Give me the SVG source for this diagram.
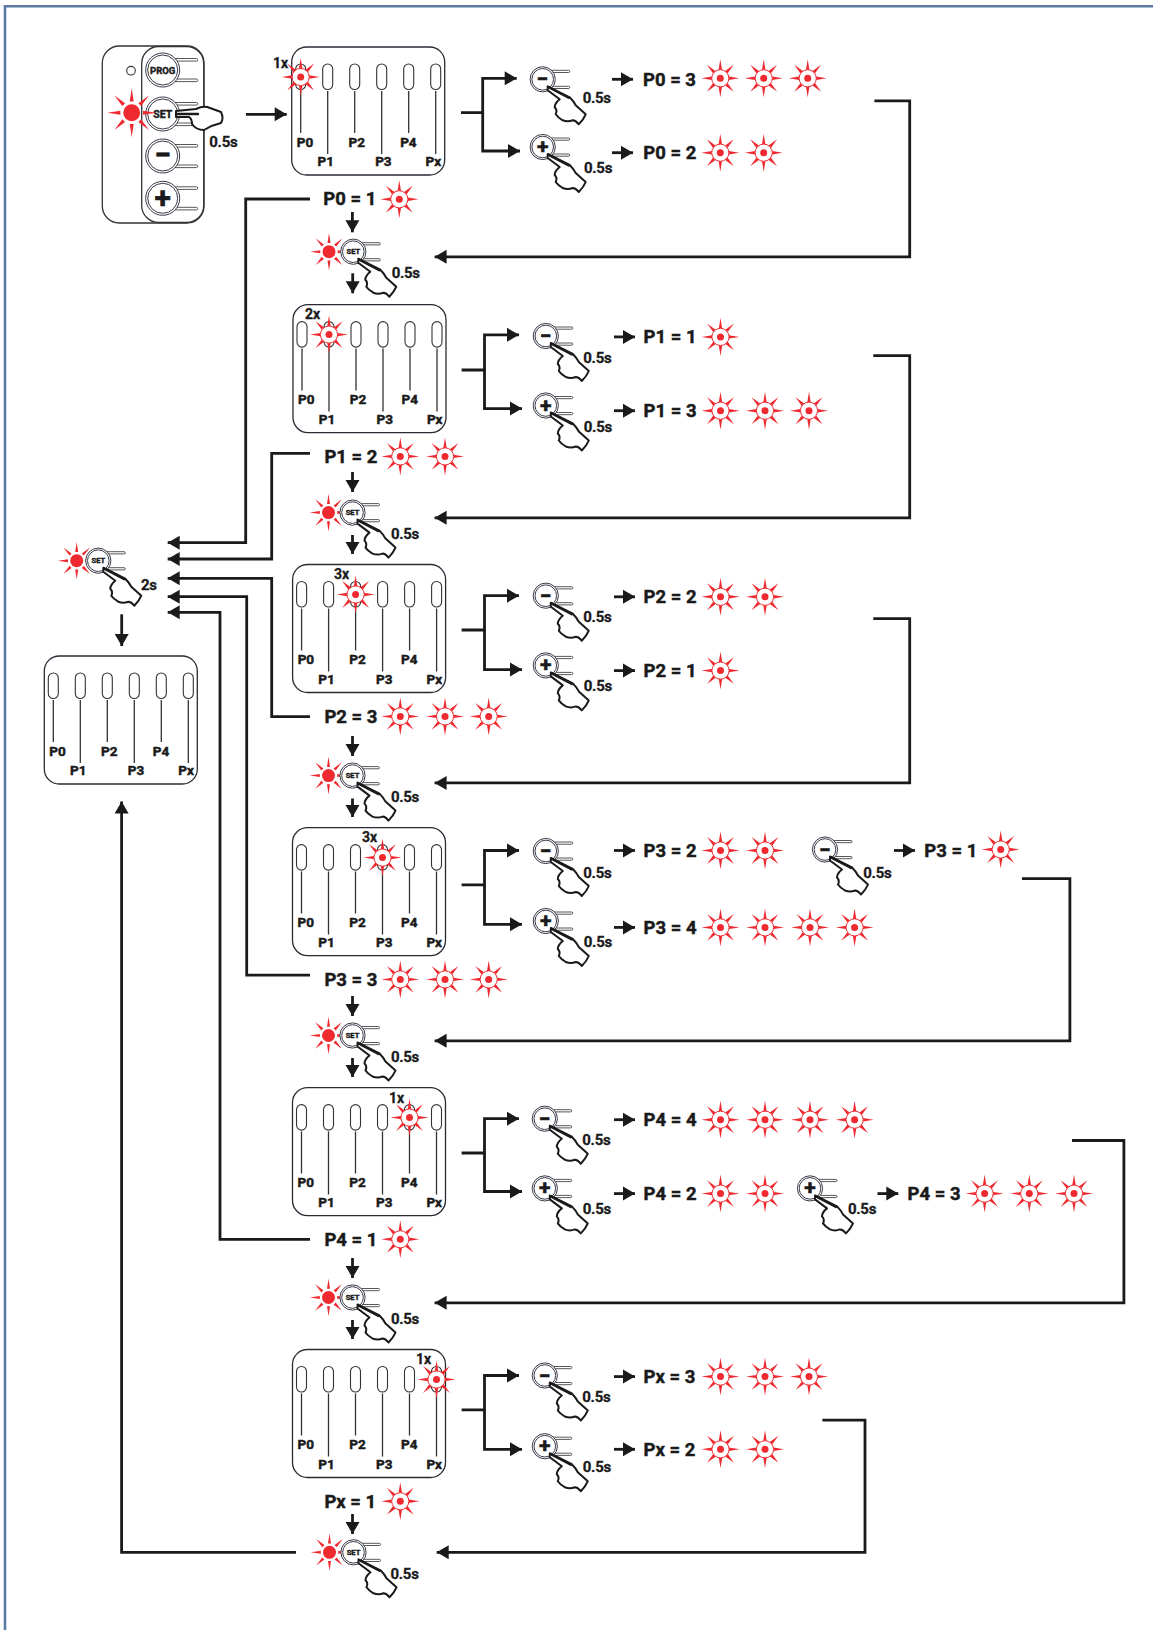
<svg xmlns="http://www.w3.org/2000/svg" width="1153" height="1630" viewBox="0 0 1153 1630">
<style>
text{font-family:Roboto,"Liberation Sans",sans-serif;font-weight:700;fill:#1a1a1a}
.val{font-size:18.5px;stroke:#1a1a1a;stroke-width:.45}
.sec{font-size:15px;letter-spacing:-.3px;stroke:#1a1a1a;stroke-width:.3}
.lb{font-size:13.5px;text-anchor:middle;stroke:#1a1a1a;stroke-width:.5}
.cnt{font-size:14px;stroke:#1a1a1a;stroke-width:.3}
.sym{font-size:21px;text-anchor:middle;stroke:#1a1a1a;stroke-width:.6}
.setx{font-size:7.5px;text-anchor:middle;stroke:#1a1a1a;stroke-width:.45}
.conn{fill:none;stroke:#1a1a1a;stroke-width:2.8;stroke-linejoin:miter}
.arr{marker-end:url(#ah)}
.pn{fill:#fff;stroke:#2a2a35;stroke-width:1.3}
.led{fill:#fff;stroke:#333;stroke-width:1.1}
.ln{stroke:#333;stroke-width:1.3;fill:none}
.tab{fill:#fff;stroke:#444;stroke-width:.9}
.ring{fill:#fff;stroke:#3a3a48;stroke-width:1}
.hand{fill:#fff;stroke:#1a1a1a;stroke-width:2;stroke-linejoin:round}
.fing{fill:none;stroke:#1a1a1a;stroke-width:2.4;stroke-linecap:round}
.red{fill:#ee2a30}
.redl{stroke:#ee2a30;stroke-width:1}
</style>
<defs>
<marker id="ah" markerUnits="userSpaceOnUse" markerWidth="14" markerHeight="16" viewBox="0 -8 13 16" refX="12" refY="0" orient="auto"><path d="M0,-7L12,0L0,7z" fill="#1a1a1a"/></marker>
<path id="ray" d="M-1.7,-8.5L0,-19L1.7,-8.5z" class="red"/>
<path id="rayf" d="M-1.5,-8.7L0,-18.8L1.5,-8.7z" class="red"/>
<g id="rays"><use href="#ray"/><use href="#ray" transform="rotate(45)"/><use href="#ray" transform="rotate(90)"/><use href="#ray" transform="rotate(135)"/><use href="#ray" transform="rotate(180)"/><use href="#ray" transform="rotate(225)"/><use href="#ray" transform="rotate(270)"/><use href="#ray" transform="rotate(315)"/></g>
<g id="sun"><use href="#rays"/><circle r="8.6" fill="#fff" class="redl"/><circle r="3.5" class="red"/></g>
<g id="sunf"><use href="#rayf"/><use href="#rayf" transform="rotate(45)"/><use href="#rayf" transform="rotate(90)"/><use href="#rayf" transform="rotate(135)"/><use href="#rayf" transform="rotate(180)"/><use href="#rayf" transform="rotate(225)"/><use href="#rayf" transform="rotate(270)"/><use href="#rayf" transform="rotate(315)"/><circle r="6.5" class="red"/></g>
<g id="btn"><rect class="tab" x="4" y="-9" width="23" height="2.2" rx="1.1"/><rect class="tab" x="4" y="7" width="23" height="2.2" rx="1.1"/><circle class="ring" r="12.6"/><circle class="ring" r="10.8"/></g>
<g id="hand"><path class="hand" d="M5,7L27,18Q31,22 33,26L43,35Q41,40 36,45Q33,41 30,41Q25,43 20,41Q15,38 13,35Q15,31 12,28Q12,24 17,20L5,11z"/><path class="fing" d="M6,8L26,18.5"/></g>
<g id="pbase">
<rect class="pn" width="153" height="128" rx="15"/>
<rect class="led" x="4" y="17" width="10" height="25.5" rx="5"/><rect class="led" x="31" y="17" width="10" height="25.5" rx="5"/><rect class="led" x="58" y="17" width="10" height="25.5" rx="5"/><rect class="led" x="85" y="17" width="10" height="25.5" rx="5"/><rect class="led" x="112" y="17" width="10" height="25.5" rx="5"/><rect class="led" x="139" y="17" width="10" height="25.5" rx="5"/>
<path class="ln" d="M9,44V86M36,44V107M63,44V86M90,44V107M117,44V86M144,44V107"/>
</g>
</defs>
<rect width="1153" height="1630" fill="#fff"/>
<path d="M5,1630V6.2H1153" fill="none" stroke="#5b7ba5" stroke-width="2.6"/>

<g id="connectors">
<path class="conn arr" d="M246,114.3H286.7"/>
<path class="conn arr" d="M461,112.7H482.7V78.3H516.7"/><path class="conn arr" d="M482.7,112.7V151H520"/>
<path class="conn arr" d="M612,79.3H633"/><path class="conn arr" d="M612,152.7H633"/>
<path class="conn arr" d="M874.4,100.9H909.7V256.8H434.6"/>
<path class="conn arr" d="M310,199H245.7V542.7H167.7"/>
<path class="conn arr" d="M352.4,212V232.3"/><path class="conn arr" d="M352.7,273.3V293.3"/>

<path class="conn arr" d="M461.6,370H484.5V334.8H519"/><path class="conn arr" d="M484.5,370V408.6H522"/>
<path class="conn arr" d="M614,336.9H635"/><path class="conn arr" d="M614,410.7H635"/>
<path class="conn arr" d="M873.3,355.6H909.7V517.8H434.6"/>
<path class="conn arr" d="M310,453.3H271.7V559H167.7"/>
<path class="conn arr" d="M352.5,472V492"/><path class="conn arr" d="M352.5,535V554"/>

<path class="conn arr" d="M461.6,630H484.5V595.7H519"/><path class="conn arr" d="M484.5,630V669.6H522"/>
<path class="conn arr" d="M614,596.8H635"/><path class="conn arr" d="M614,670.6H635"/>
<path class="conn arr" d="M873.3,618.6H909.7V782.9H434.6"/>
<path class="conn arr" d="M310,716.7H271.7V578.3H167.7"/>
<path class="conn arr" d="M352.5,736V756"/><path class="conn arr" d="M352.5,798.5V817"/>

<path class="conn arr" d="M461.6,884.8H484.5V850.5H519"/><path class="conn arr" d="M484.5,884.8V924.3H522"/>
<path class="conn arr" d="M614,850.5H635"/><path class="conn arr" d="M614,927.4H635"/><path class="conn arr" d="M894,850.5H915"/>
<path class="conn arr" d="M1022,878.6H1069.9V1040.8H434.6"/>
<path class="conn arr" d="M310,975.2H246.7V596.7H167.7"/>
<path class="conn arr" d="M352.5,996V1016"/><path class="conn arr" d="M352.5,1058V1077"/>

<path class="conn arr" d="M461.6,1153H484.5V1118.7H519"/><path class="conn arr" d="M484.5,1153V1191.5H522"/>
<path class="conn arr" d="M614,1119.7H635"/><path class="conn arr" d="M614,1193.6H635"/><path class="conn arr" d="M877.5,1193.6H898.3"/>
<path class="conn arr" d="M1072,1140.5H1123.9V1302.8H434.6"/>
<path class="conn arr" d="M310,1239.3H220V612.3H167.7"/>
<path class="conn arr" d="M352.5,1258V1278"/><path class="conn arr" d="M352.5,1320V1339"/>

<path class="conn arr" d="M461.6,1409.9H484.5V1375.5H519"/><path class="conn arr" d="M484.5,1409.9V1449.3H522"/>
<path class="conn arr" d="M614,1376.6H635"/><path class="conn arr" d="M614,1449.3H635"/>
<path class="conn arr" d="M822.4,1420.2H865V1552.3H436.7"/>
<path class="conn arr" d="M352.5,1514V1534"/>
<path class="conn arr" d="M296,1552.3H121.6V801.6"/>
<path class="conn arr" d="M121.7,614.3V646"/>
</g>

<g id="remote">
<rect x="102.3" y="46" width="101.7" height="177" rx="17" fill="#fff" stroke="#333" stroke-width="1.3"/>
<rect x="141.7" y="46.5" width="62" height="176" rx="17" fill="#fff" stroke="#333" stroke-width="1.3"/>
<circle cx="131" cy="70.7" r="4.3" fill="#fff" stroke="#333" stroke-width="1.1"/>
<g transform="translate(162.7,70)"><rect class="tab" x="5" y="-11.5" width="30" height="2.6" rx="1.3"/><rect class="tab" x="5" y="9" width="30" height="2.6" rx="1.3"/><circle class="ring" r="17"/><circle class="ring" r="15"/><text class="setx" y="3.5" style="font-size:9.5px">PROG</text></g>
<g transform="translate(162.7,114)"><rect class="tab" x="5" y="-11.5" width="30" height="2.6" rx="1.3"/><rect class="tab" x="5" y="9" width="30" height="2.6" rx="1.3"/><circle class="ring" r="17"/><circle class="ring" r="15"/><text class="setx" y="3.7" style="font-size:10.5px">SET</text></g>
<g transform="translate(162.7,156)"><rect class="tab" x="5" y="-11.5" width="30" height="2.6" rx="1.3"/><rect class="tab" x="5" y="9" width="30" height="2.6" rx="1.3"/><circle class="ring" r="17"/><circle class="ring" r="15"/><text class="sym" y="9" style="font-size:30px">−</text></g>
<g transform="translate(162.7,198.3)"><rect class="tab" x="5" y="-11.5" width="30" height="2.6" rx="1.3"/><rect class="tab" x="5" y="9" width="30" height="2.6" rx="1.3"/><circle class="ring" r="17"/><circle class="ring" r="15"/><text class="sym" y="10" style="font-size:30px">+</text></g>
<use href="#sunf" transform="translate(131.7,112.7) scale(1.3)"/>
<path class="hand" d="M176,111L196,109Q204,105 210,108L221,112Q224,118 221,123Q212,125 204,130Q196,130 192,124Q192,119 189,117L176,117z"/>
<path class="fing" d="M176,114H198"/>
<text class="sec" x="209.3" y="146.7">0.5s</text>
</g>

<g id="panel1" transform="translate(291.7,47)"><use href="#pbase"/><text class="lb" x="13.3" y="99.7">P0</text><text class="lb" x="34" y="119">P1</text><text class="lb" x="65" y="99.7">P2</text><text class="lb" x="91.7" y="119">P3</text><text class="lb" x="116.7" y="99.7">P4</text><text class="lb" x="141.7" y="119">Px</text><use href="#sun" x="9" y="30"/><text class="cnt" x="-18.7" y="21.3">1x</text></g>
<g id="panel2" transform="translate(293,304.6)"><use href="#pbase"/><text class="lb" x="13.3" y="99.7">P0</text><text class="lb" x="34" y="119">P1</text><text class="lb" x="65" y="99.7">P2</text><text class="lb" x="91.7" y="119">P3</text><text class="lb" x="116.7" y="99.7">P4</text><text class="lb" x="141.7" y="119">Px</text><use href="#sun" x="36" y="30"/><text class="cnt" x="12" y="14.4">2x</text></g>
<g id="panel3" transform="translate(292.6,564.5)"><use href="#pbase"/><text class="lb" x="13.3" y="99.7">P0</text><text class="lb" x="34" y="119">P1</text><text class="lb" x="65" y="99.7">P2</text><text class="lb" x="91.7" y="119">P3</text><text class="lb" x="116.7" y="99.7">P4</text><text class="lb" x="141.7" y="119">Px</text><use href="#sun" x="63" y="30"/><text class="cnt" x="41.4" y="14.5">3x</text></g>
<g id="panel4" transform="translate(292.5,827.6)"><use href="#pbase"/><text class="lb" x="13.3" y="99.7">P0</text><text class="lb" x="34" y="119">P1</text><text class="lb" x="65" y="99.7">P2</text><text class="lb" x="91.7" y="119">P3</text><text class="lb" x="116.7" y="99.7">P4</text><text class="lb" x="141.7" y="119">Px</text><use href="#sun" x="90" y="30"/><text class="cnt" x="69.5" y="14.4">3x</text></g>
<g id="panel5" transform="translate(292.5,1087.6)"><use href="#pbase"/><text class="lb" x="13.3" y="99.7">P0</text><text class="lb" x="34" y="119">P1</text><text class="lb" x="65" y="99.7">P2</text><text class="lb" x="91.7" y="119">P3</text><text class="lb" x="116.7" y="99.7">P4</text><text class="lb" x="141.7" y="119">Px</text><use href="#sun" x="117" y="30"/><text class="cnt" x="96.5" y="15.4">1x</text></g>
<g id="panel6" transform="translate(292.5,1349.5)"><use href="#pbase"/><text class="lb" x="13.3" y="99.7">P0</text><text class="lb" x="34" y="119">P1</text><text class="lb" x="65" y="99.7">P2</text><text class="lb" x="91.7" y="119">P3</text><text class="lb" x="116.7" y="99.7">P4</text><text class="lb" x="141.7" y="119">Px</text><use href="#sun" x="144" y="30"/><text class="cnt" x="123.5" y="14.5">1x</text></g>
<g id="panel-final" transform="translate(44.3,656)"><use href="#pbase"/><text class="lb" x="13.3" y="99.7">P0</text><text class="lb" x="34" y="119">P1</text><text class="lb" x="65" y="99.7">P2</text><text class="lb" x="91.7" y="119">P3</text><text class="lb" x="116.7" y="99.7">P4</text><text class="lb" x="141.7" y="119">Px</text></g>

<g id="set-2s"><use href="#sunf" x="76.7" y="560.7"/><g transform="translate(98.3,560.7)"><use href="#btn"/><text class="setx" y="2.7">SET</text><use href="#hand"/></g><text class="sec" x="141" y="590">2s</text></g>

<g id="s1"><text class="val" x="323.3" y="205">P0 = 1</text><use href="#sun" x="399.3" y="199.3"/></g>
<g id="set1"><use href="#sunf" x="329" y="251.7"/><g transform="translate(353.3,251.7)"><use href="#btn"/><text class="setx" y="2.7">SET</text><use href="#hand"/><text class="sec" x="38.4" y="26.6">0.5s</text></g></g>
<g id="s2"><text class="val" x="324.4" y="463">P1 = 2</text><use href="#sun" x="400.3" y="456.4"/><use href="#sun" x="445" y="456.4"/></g>
<g id="set2"><use href="#sunf" x="328.5" y="512.6"/><g transform="translate(352.5,512.6)"><use href="#btn"/><text class="setx" y="2.7">SET</text><use href="#hand"/><text class="sec" x="38.4" y="26.6">0.5s</text></g></g>
<g id="s3"><text class="val" x="324.4" y="723">P2 = 3</text><use href="#sun" x="400.3" y="716.4"/><use href="#sun" x="445" y="716.4"/><use href="#sun" x="488.7" y="716.4"/></g>
<g id="set3"><use href="#sunf" x="328.5" y="775.6"/><g transform="translate(352.5,775.6)"><use href="#btn"/><text class="setx" y="2.7">SET</text><use href="#hand"/><text class="sec" x="38.4" y="26.6">0.5s</text></g></g>
<g id="s4"><text class="val" x="324.4" y="986">P3 = 3</text><use href="#sun" x="400.3" y="979.4"/><use href="#sun" x="445" y="979.4"/><use href="#sun" x="488.7" y="979.4"/></g>
<g id="set4"><use href="#sunf" x="328.5" y="1035.5"/><g transform="translate(352.5,1035.5)"><use href="#btn"/><text class="setx" y="2.7">SET</text><use href="#hand"/><text class="sec" x="38.4" y="26.6">0.5s</text></g></g>
<g id="s5"><text class="val" x="324.4" y="1246">P4 = 1</text><use href="#sun" x="400.3" y="1239.3"/></g>
<g id="set5"><use href="#sunf" x="328.5" y="1297.5"/><g transform="translate(352.5,1297.5)"><use href="#btn"/><text class="setx" y="2.7">SET</text><use href="#hand"/><text class="sec" x="38.4" y="26.6">0.5s</text></g></g>
<g id="s6"><text class="val" x="324.4" y="1508">Px = 1</text><use href="#sun" x="400.3" y="1501.3"/></g>
<g id="set6"><use href="#sunf" x="329.5" y="1552.3"/><g transform="translate(353.5,1552.3)"><use href="#btn"/><text class="setx" y="2.7">SET</text><use href="#hand"/><text class="sec" x="37" y="26.6">0.5s</text></g></g>

<g id="b1a" transform="translate(542.7,79.3)"><use href="#btn"/><text class="sym" y="7">−</text><use href="#hand"/><text class="sec" x="40" y="24">0.5s</text></g>
<g id="b1b" transform="translate(542.7,147)"><use href="#btn"/><text class="sym" y="7">+</text><use href="#hand"/><text class="sec" x="41.3" y="25.5">0.5s</text></g>
<g id="r1a"><text class="val" x="643" y="85.7">P0 = 3</text><use href="#sun" x="720.3" y="78.3"/><use href="#sun" x="763.7" y="78.3"/><use href="#sun" x="807.7" y="78.3"/></g>
<g id="r1b"><text class="val" x="643.3" y="159">P0 = 2</text><use href="#sun" x="720.3" y="152.7"/><use href="#sun" x="763.7" y="152.7"/></g>

<g id="b2a" transform="translate(545.8,336)"><use href="#btn"/><text class="sym" y="7">−</text><use href="#hand"/><text class="sec" x="37.5" y="26.6">0.5s</text></g>
<g id="b2b" transform="translate(545.8,405.5)"><use href="#btn"/><text class="sym" y="7">+</text><use href="#hand"/><text class="sec" x="38" y="26">0.5s</text></g>
<g id="r2a"><text class="val" x="643.6" y="343.4">P1 = 1</text><use href="#sun" x="720.5" y="336.9"/></g>
<g id="r2b"><text class="val" x="643.6" y="417.2">P1 = 3</text><use href="#sun" x="720.5" y="410.7"/><use href="#sun" x="765" y="410.7"/><use href="#sun" x="809" y="410.7"/></g>

<g id="b3a" transform="translate(545.8,595.7)"><use href="#btn"/><text class="sym" y="7">−</text><use href="#hand"/><text class="sec" x="37.5" y="26.6">0.5s</text></g>
<g id="b3b" transform="translate(545.8,665.4)"><use href="#btn"/><text class="sym" y="7">+</text><use href="#hand"/><text class="sec" x="38" y="26">0.5s</text></g>
<g id="r3a"><text class="val" x="643.6" y="603.3">P2 = 2</text><use href="#sun" x="720.5" y="596.8"/><use href="#sun" x="765" y="596.8"/></g>
<g id="r3b"><text class="val" x="643.6" y="677.1">P2 = 1</text><use href="#sun" x="720.5" y="670.6"/></g>

<g id="b4a" transform="translate(545.8,851)"><use href="#btn"/><text class="sym" y="7">−</text><use href="#hand"/><text class="sec" x="37.5" y="26.6">0.5s</text></g>
<g id="b4b" transform="translate(545.8,921)"><use href="#btn"/><text class="sym" y="7">+</text><use href="#hand"/><text class="sec" x="38" y="26">0.5s</text></g>
<g id="b4c" transform="translate(825,849.5)"><use href="#btn"/><text class="sym" y="7">−</text><use href="#hand"/><text class="sec" x="38.3" y="28">0.5s</text></g>
<g id="r4a"><text class="val" x="643.6" y="857">P3 = 2</text><use href="#sun" x="720.5" y="850.5"/><use href="#sun" x="765" y="850.5"/></g>
<g id="r4b"><text class="val" x="643.6" y="933.9">P3 = 4</text><use href="#sun" x="720.5" y="927.4"/><use href="#sun" x="765" y="927.4"/><use href="#sun" x="810" y="927.4"/><use href="#sun" x="854.6" y="927.4"/></g>
<g id="r4c"><text class="val" x="924.3" y="856.5">P3 = 1</text><use href="#sun" x="1000.7" y="849.5"/></g>

<g id="b5a" transform="translate(544.8,1118.7)"><use href="#btn"/><text class="sym" y="7">−</text><use href="#hand"/><text class="sec" x="37.5" y="26.6">0.5s</text></g>
<g id="b5b" transform="translate(544.8,1188.4)"><use href="#btn"/><text class="sym" y="7">+</text><use href="#hand"/><text class="sec" x="38" y="26">0.5s</text></g>
<g id="b5c" transform="translate(810,1188.4)"><use href="#btn"/><text class="sym" y="7">+</text><use href="#hand"/><text class="sec" x="38" y="26">0.5s</text></g>
<g id="r5a"><text class="val" x="643.6" y="1126.2">P4 = 4</text><use href="#sun" x="720.5" y="1119.7"/><use href="#sun" x="765" y="1119.7"/><use href="#sun" x="810" y="1119.7"/><use href="#sun" x="854.6" y="1119.7"/></g>
<g id="r5b"><text class="val" x="643.6" y="1200.1">P4 = 2</text><use href="#sun" x="720.5" y="1193.6"/><use href="#sun" x="765" y="1193.6"/></g>
<g id="r5c"><text class="val" x="907.6" y="1200.1">P4 = 3</text><use href="#sun" x="984.6" y="1193.6"/><use href="#sun" x="1029.3" y="1193.6"/><use href="#sun" x="1074" y="1193.6"/></g>

<g id="b6a" transform="translate(544.8,1375.5)"><use href="#btn"/><text class="sym" y="7">−</text><use href="#hand"/><text class="sec" x="37.5" y="26.6">0.5s</text></g>
<g id="b6b" transform="translate(544.8,1446.2)"><use href="#btn"/><text class="sym" y="7">+</text><use href="#hand"/><text class="sec" x="38" y="26">0.5s</text></g>
<g id="r6a"><text class="val" x="643.6" y="1383.1">Px = 3</text><use href="#sun" x="720.5" y="1376.6"/><use href="#sun" x="765" y="1376.6"/><use href="#sun" x="809" y="1376.6"/></g>
<g id="r6b"><text class="val" x="643.6" y="1455.8">Px = 2</text><use href="#sun" x="720.5" y="1449.3"/><use href="#sun" x="765" y="1449.3"/></g>
</svg>
